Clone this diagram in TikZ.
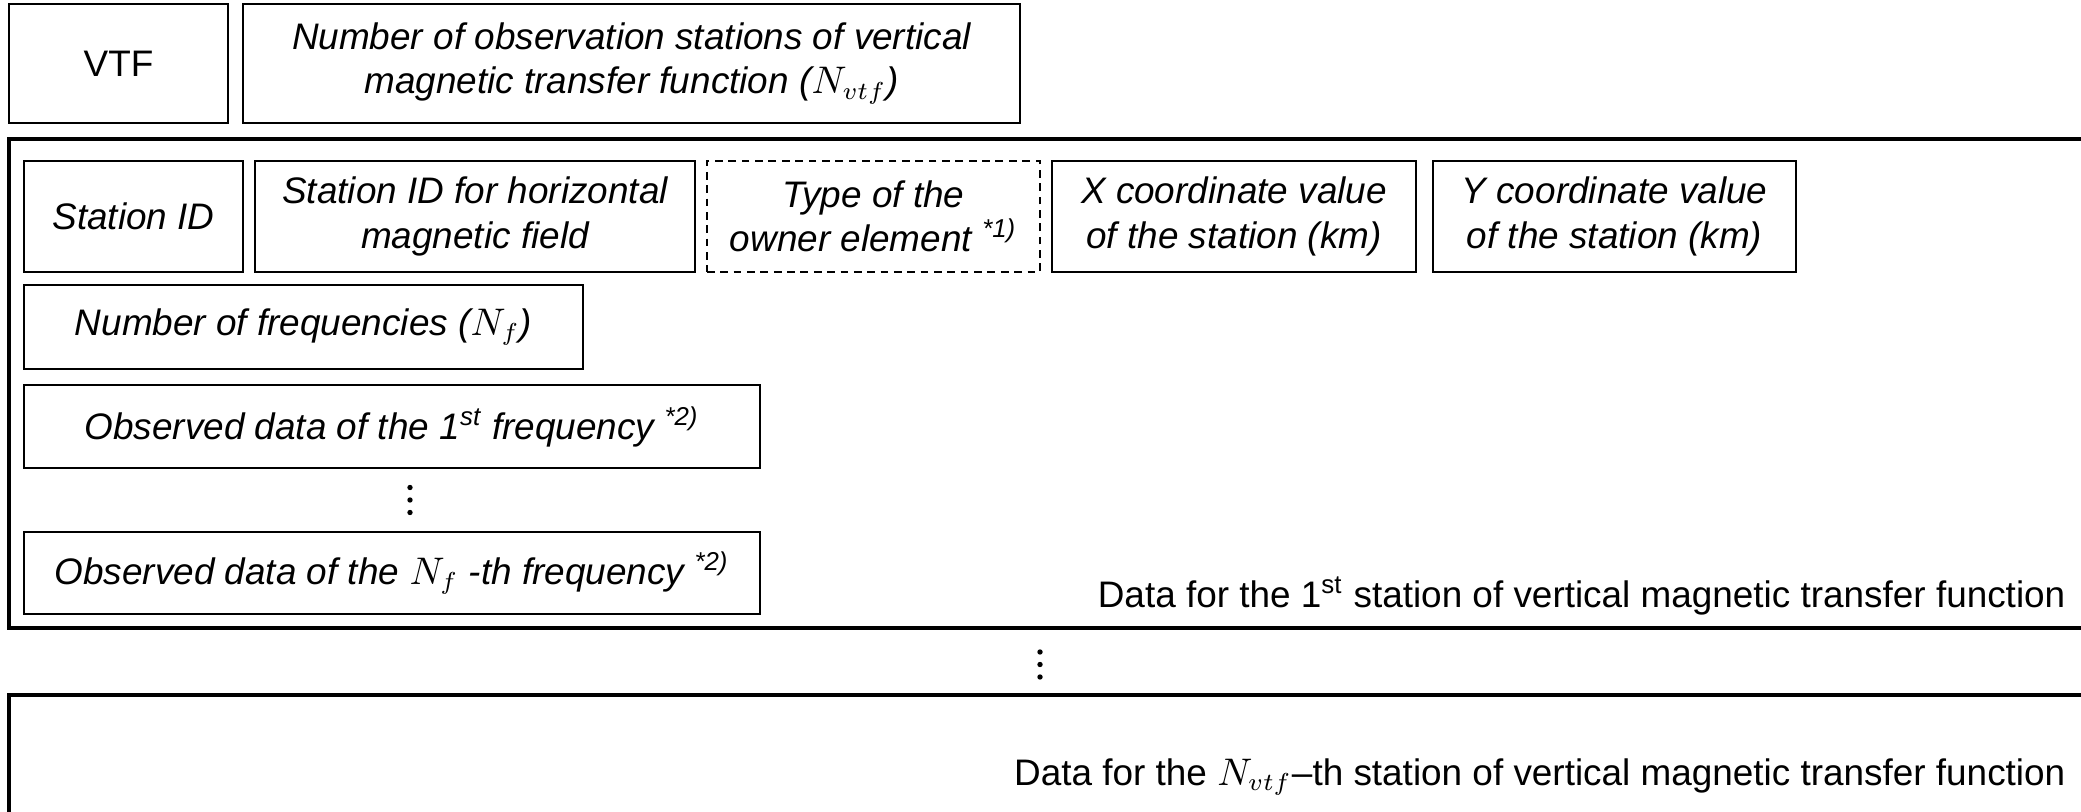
\documentclass[tikz,border=0pt]{standalone}
\usepackage{fontspec}
\setmainfont{Liberation Sans}
\usetikzlibrary{positioning, calc}

\begin{document}
\begin{tikzpicture}[
    font=\fontsize{10.5}{12.6}\selectfont,
    box/.style={draw, rectangle, line width=0.8pt, inner sep=0pt, align=center, font=\fontsize{10.5}{12.6}\selectfont\itshape},
    ownerbox/.style={box, dash pattern=on 2.2pt off 1.6pt},
    frame/.style={draw, rectangle, line width=1.1pt, inner sep=0pt},
    note/.style={anchor=east, inner sep=0pt},
    dot/.style={fill=black}
]
\clip (0,0) rectangle (20.81,-8.12);

% Header
\node[box, minimum width=2.19cm, minimum height=1.19cm, font=\fontsize{10.5}{12.6}\selectfont] (vtf) at (1.185, -0.635) {VTF};
\node[box, minimum width=7.77cm, minimum height=1.19cm] (nvtf) at (6.315, -0.635) {Number of observation stations of vertical\\magnetic transfer function ($N_{vtf}$)};

% Station 1 frame
\node[frame, minimum width=21.4cm, minimum height=4.89cm] (station1) at (10.79, -3.835) {};

% Station record
\node[box, minimum width=2.19cm, minimum height=1.11cm] (sid) at (1.335, -2.165) {Station ID};
\node[box, minimum width=4.40cm, minimum height=1.11cm] (sidh) at (4.75, -2.165) {Station ID for horizontal\\magnetic field};
\node[ownerbox, minimum width=3.33cm, minimum height=1.11cm] (owner) at (8.735, -2.165) {Type of the\\owner element \textsuperscript{*1)}};
\node[box, minimum width=3.64cm, minimum height=1.11cm] (xcoord) at (12.34, -2.165) {X coordinate value\\of the station (km)};
\node[box, minimum width=3.63cm, minimum height=1.11cm] (ycoord) at (16.145, -2.165) {Y coordinate value\\of the station (km)};

% Frequencies
\node[box, minimum width=5.59cm, minimum height=0.84cm] (nfreq) at (3.035, -3.27) {Number of frequencies ($N_f$)};
\node[box, minimum width=7.36cm, minimum height=0.83cm] (obs1) at (3.92, -4.265) {Observed data of the 1\textsuperscript{st} frequency \textsuperscript{*2)}};
\coordinate (dots1) at (4.10, -5.00);
\node[box, minimum width=7.36cm, minimum height=0.82cm] (obsn) at (3.92, -5.73) {Observed data of the $N_f$ -th frequency \textsuperscript{*2)}};

\node[note] (label1) at (20.66, -5.96) {Data for the 1\textsuperscript{st} station of vertical magnetic transfer function};

\coordinate (dots2) at (10.40, -6.645);

% Vertical dots
\foreach \pt in {dots1, dots2}
  \foreach \dy in {-0.125, 0, 0.125}
    \fill[dot] ($(\pt)+(0,\dy)$) circle (0.027);

% Last station frame
\node[frame, minimum width=21.4cm, minimum height=1.6cm] (stationn) at (10.79, -7.75) {};
\node[note] (labeln) at (20.66, -7.77) {Data for the $N_{vtf}$--th station of vertical magnetic transfer function};

\end{tikzpicture}
\end{document}
